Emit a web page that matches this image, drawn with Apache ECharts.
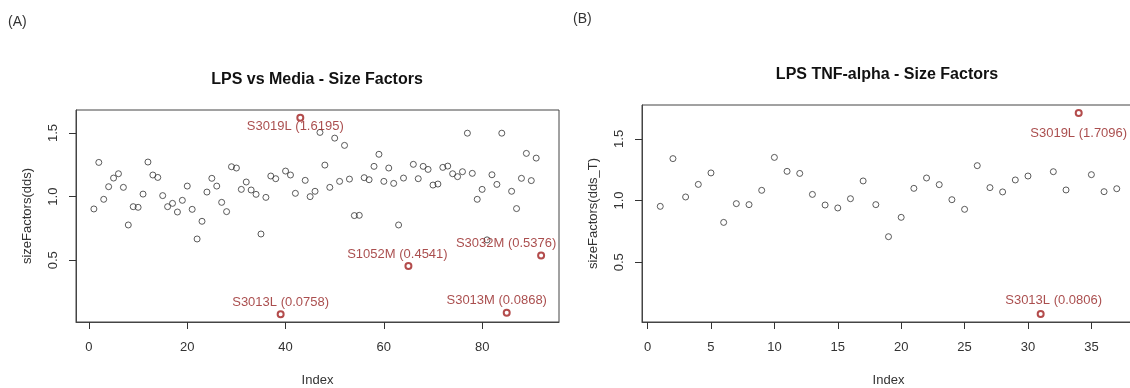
<!DOCTYPE html>
<html>
<head>
<meta charset="utf-8">
<script src="https://cdn.jsdelivr.net/npm/echarts@6/dist/echarts.min.js"></script>
<style>
  html, body { margin: 0; padding: 0; background: #fff; }
  #chart { width: 1130px; height: 388px; }
</style>
</head>
<body>
<div id="chart"></div>
<script>
// size factors (index starts at 1)
const sfMedia = [
  0.903, 1.269, 0.979, 1.078, 1.146, 1.180, 1.073, 0.777, 0.921, 0.916,
  1.020, 1.272, 1.170, 1.151, 1.008, 0.921, 0.947, 0.879, 0.971, 1.083,
  0.900, 0.667, 0.806, 1.036, 1.144, 1.083, 0.955, 0.882, 1.235, 1.225,
  1.057, 1.115, 1.052, 1.018, 0.706, 0.994, 1.162, 1.141, 0.0758, 1.201,
  1.170, 1.026, 1.6195, 1.128, 1.000, 1.042, 1.505, 1.248, 1.073, 1.460,
  1.120, 1.403, 1.138, 0.851, 0.853, 1.149, 1.133, 1.238, 1.333, 1.120,
  1.225, 1.104, 0.777, 1.146, 0.4541, 1.254, 1.141, 1.238, 1.214, 1.091,
  1.099, 1.230, 1.240, 1.180, 1.157, 1.196, 1.499, 1.183, 0.979, 1.057,
  0.660, 1.172, 1.096, 1.499, 0.0868, 1.042, 0.906, 1.144, 1.340, 1.126,
  1.303, 0.5376
];
const sfTnf = [
  0.953, 1.340, 1.029, 1.131, 1.224, 0.823, 0.975, 0.967, 1.083, 1.350,
  1.237, 1.220, 1.050, 0.964, 0.940, 1.015, 1.159, 0.967, 0.707, 0.864,
  1.099, 1.183, 1.129, 1.007, 0.929, 1.283, 1.105, 1.070, 1.167, 1.199,
  0.0806, 1.234, 1.086, 1.7096, 1.210, 1.072, 1.096
];

// flagged samples: index and name
const outMediaIdx = [39, 43, 65, 85, 92];
const outMediaName = ["S3013L", "S3019L", "S1052M", "S3013M", "S3032M"];
const outTnfIdx = [31, 34];
const outTnfName = ["S3013L", "S3019L"];

const ticksMediaX = [0, 20, 40, 60, 80];
const ticksTnfX = [0, 5, 10, 15, 20, 25, 30, 35];
const ticksY = [0.5, 1.0, 1.5];

// label offsets (px) relative to the point
const offMedia = [[0, -12], [-5, 9], [-11, -12], [-10, -12], [-35, -12.5]];
const offTnf = [[13, -14], [0, 20]];

const GRAY = "#333";
const RED = "#a01f1f";
const TXT = "#333";
const FONT = "'Liberation Sans', Arial, sans-serif";

// R style limits: data range + 4%
function rlim(lo, hi) {
  const d = (hi - lo) * 0.04;
  return [lo - d, hi + d];
}

function gray(vals, skip) {
  return vals.map((v, i) => [i + 1, v]).filter(p => skip.indexOf(p[0]) < 0);
}

function red(vals, idx, names, offs) {
  return idx.map((k, j) => ({
    value: [k, vals[k - 1]],
    name: names[j],
    label: { offset: offs[j] }
  }));
}

const tickStyle = { show: true, inside: false, length: 7, lineStyle: { color: "#333", width: 1 } };

function xAx(grid, n, ticks) {
  const lim = rlim(1, n);
  return {
    type: "value", gridIndex: grid, min: lim[0], max: lim[1],
    name: "Index", nameLocation: "middle", nameGap: 52,
    nameTextStyle: { color: TXT, fontSize: 13, fontFamily: FONT },
    axisLine: { show: true, onZero: false, lineStyle: { color: "#444" } },
    axisTick: Object.assign({ customValues: ticks }, tickStyle),
    axisLabel: { customValues: ticks, color: TXT, fontSize: 13, fontFamily: FONT, margin: 19 },
    splitLine: { show: false }
  };
}

function yAx(grid, vals, name) {
  const lim = rlim(Math.min(...vals), Math.max(...vals));
  return {
    type: "value", gridIndex: grid, min: lim[0], max: lim[1],
    name: name, nameLocation: "middle", nameGap: 42,
    nameTextStyle: { color: TXT, fontSize: 13, fontFamily: FONT },
    axisLine: { show: true, onZero: false, lineStyle: { color: "#444" } },
    axisTick: Object.assign({ customValues: ticksY }, tickStyle),
    axisLabel: {
      customValues: ticksY, rotate: 90, color: TXT, fontSize: 13, fontFamily: FONT, margin: 16,
      formatter: v => v.toFixed(1)
    },
    splitLine: { show: false }
  };
}

const labelStyle = {
  show: true, position: "inside", color: "#952222", fontSize: 13, fontFamily: FONT,
  formatter: p => p.name + " (" + p.value[1].toFixed(4) + ")"
};

const chart = echarts.init(document.getElementById("chart"), null, { renderer: "canvas" });
chart.setOption({
  animation: false,
  backgroundColor: "#fff",
  title: [
    { text: "(A)", left: 8, top: 15, padding: 0, textStyle: { color: TXT, fontSize: 14, fontWeight: "normal", fontFamily: FONT } },
    { text: "(B)", left: 573, top: 12, padding: 0, textStyle: { color: TXT, fontSize: 14, fontWeight: "normal", fontFamily: FONT } },
    { text: "LPS vs Media - Size Factors", left: 317, top: 72, padding: 0, textAlign: "center",
      textStyle: { color: "#111", fontSize: 16, fontWeight: "bold", fontFamily: FONT } },
    { text: "LPS TNF-alpha - Size Factors", left: 887, top: 67, padding: 0, textAlign: "center",
      textStyle: { color: "#111", fontSize: 16, fontWeight: "bold", fontFamily: FONT } }
  ],
  grid: [
    { left: 76, top: 110, width: 483, height: 212, show: true, borderColor: "#444", borderWidth: 1,
      outerBoundsMode: "none", containLabel: false },
    { left: 642, top: 105, width: 493, height: 217, show: true, borderColor: "#444", borderWidth: 1,
      outerBoundsMode: "none", containLabel: false }
  ],
  xAxis: [xAx(0, sfMedia.length, ticksMediaX), xAx(1, sfTnf.length, ticksTnfX)],
  yAxis: [yAx(0, sfMedia, "sizeFactors(dds)"), yAx(1, sfTnf, "sizeFactors(dds_T)")],
  series: [
    {
      type: "scatter", xAxisIndex: 0, yAxisIndex: 0, symbol: "circle", symbolSize: 6,
      itemStyle: { color: "rgba(255,255,255,0)", borderColor: GRAY, borderWidth: 1 },
      data: gray(sfMedia, outMediaIdx)
    },
    {
      type: "scatter", xAxisIndex: 0, yAxisIndex: 0, symbol: "circle", symbolSize: 6, z: 3,
      itemStyle: { color: "rgba(255,255,255,0)", borderColor: RED, borderWidth: 2 },
      label: labelStyle,
      data: red(sfMedia, outMediaIdx, outMediaName, offMedia)
    },
    {
      type: "scatter", xAxisIndex: 1, yAxisIndex: 1, symbol: "circle", symbolSize: 6,
      itemStyle: { color: "rgba(255,255,255,0)", borderColor: GRAY, borderWidth: 1 },
      data: gray(sfTnf, outTnfIdx)
    },
    {
      type: "scatter", xAxisIndex: 1, yAxisIndex: 1, symbol: "circle", symbolSize: 6, z: 3,
      itemStyle: { color: "rgba(255,255,255,0)", borderColor: RED, borderWidth: 2 },
      label: labelStyle,
      data: red(sfTnf, outTnfIdx, outTnfName, offTnf)
    }
  ]
});
</script>
</body>
</html>
